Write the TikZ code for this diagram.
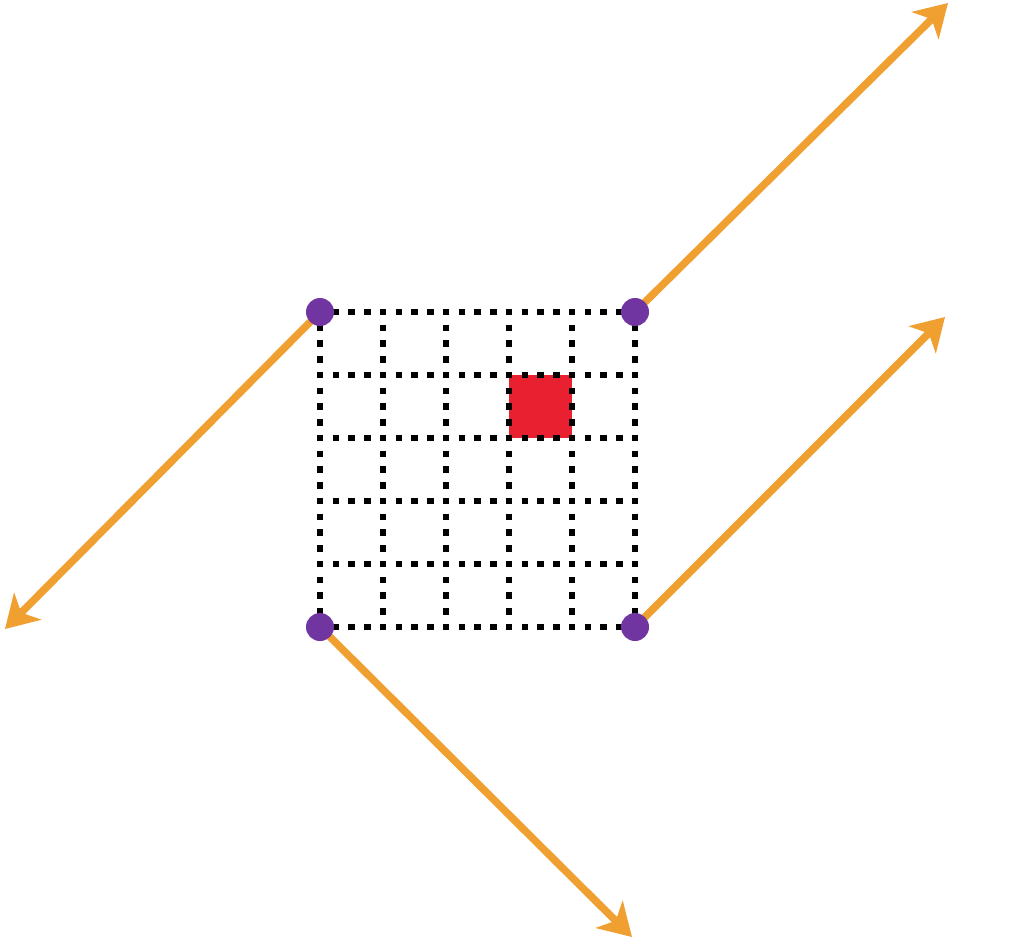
\documentclass[tikz,border=0pt]{standalone}
\usetikzlibrary{arrows.meta}
\definecolor{gridblack}{HTML}{000000}
\definecolor{cellred}{HTML}{E82030}
\definecolor{cornerpurple}{HTML}{7035A0}
\definecolor{rayorange}{HTML}{F0A030}
\newcommand{\cellw}{63}
\newcommand{\gridx}[1]{320+#1*\cellw}
\newcommand{\gridy}[1]{312+#1*\cellw}
\tikzset{
  gridline/.style={gridblack,line width=6.5pt,dash pattern=on 6.5pt off 9.25pt,dash phase=3.25pt},
  corner/.style={circle,fill=cornerpurple,inner sep=0pt,minimum size=28pt},
  ray/.style={rayorange,line width=7.5pt,-{Stealth[length=32pt,width=38pt,inset=9pt]}},
}

\begin{document}
\begin{tikzpicture}[x=1pt,y=-1pt]
  \useasboundingbox (0,0) rectangle (1024,940);

  \fill[cellred] ({\gridx{3}},{\gridy{1}}) rectangle ({\gridx{4}},{\gridy{2}});

  \foreach \i in {0,...,5}{%
    \pgfmathsetmacro{\xx}{\gridx{\i}}%
    \pgfmathsetmacro{\yy}{\gridy{\i}}%
    \draw[gridline] (\xx,{\gridy{0}}) -- (\xx,{\gridy{5}});
    \draw[gridline] ({\gridx{0}},\yy) -- ({\gridx{5}},\yy);
  }

  \coordinate (tipne) at (948,3);
  \coordinate (tipse) at (945,317);
  \coordinate (tipsw) at (632,937);
  \coordinate (tipw) at (5,629);

  \coordinate (tl) at ({\gridx{0}},{\gridy{0}});
  \coordinate (tr) at ({\gridx{5}},{\gridy{0}});
  \coordinate (bl) at ({\gridx{0}},{\gridy{5}});
  \coordinate (br) at ({\gridx{5}},{\gridy{5}});

  \draw[ray] (tr) -- (tipne);
  \draw[ray] (br) -- (tipse);
  \draw[ray] (tl) -- (tipw);
  \draw[ray] (bl) -- (tipsw);

  \node[corner] (ctl) at (tl) {};
  \node[corner] (ctr) at (tr) {};
  \node[corner] (cbl) at (bl) {};
  \node[corner] (cbr) at (br) {};
\end{tikzpicture}
\end{document}
